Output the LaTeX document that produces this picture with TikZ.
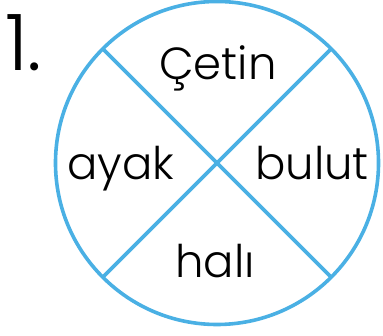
\documentclass[tikz,border=0pt]{standalone}
\usepackage{fontspec}
\setmainfont{Poppins}[UprightFont=* Light]
\usetikzlibrary{calc}
\definecolor{ringblue}{RGB}{74,176,228}
\begin{document}
\begin{tikzpicture}[x=1pt,y=1pt,
  ring/.style={draw=ringblue,line width=3.6pt},
  word/.style={inner sep=0pt,anchor=base,font=\fontsize{45}{45}\selectfont},
  num/.style={inner sep=0pt,anchor=base west,font=\fontsize{78}{78}\selectfont}]
\useasboundingbox (0,0) rectangle (383,336);
\coordinate (c) at (217,173);
\draw[ring] (c) circle (161.5);
\coordinate (tl) at ($(c)+(135:161.5)$);
\coordinate (tr) at ($(c)+(45:161.5)$);
\coordinate (bl) at ($(c)+(225:161.5)$);
\coordinate (br) at ($(c)+(315:161.5)$);
\draw[ring] (tl) -- (br);
\draw[ring] (tr) -- (bl);
\node[word] (cetin) at (218,256) {Çetin};
\node[word] (ayak) at (121,156) {ayak};
\node[word] (bulut) at (312,156) {bulut};
\node[word] (hali) at (215,58) {halı};
\node[num] (one) at (5,265) {1.};
\end{tikzpicture}
\end{document}
